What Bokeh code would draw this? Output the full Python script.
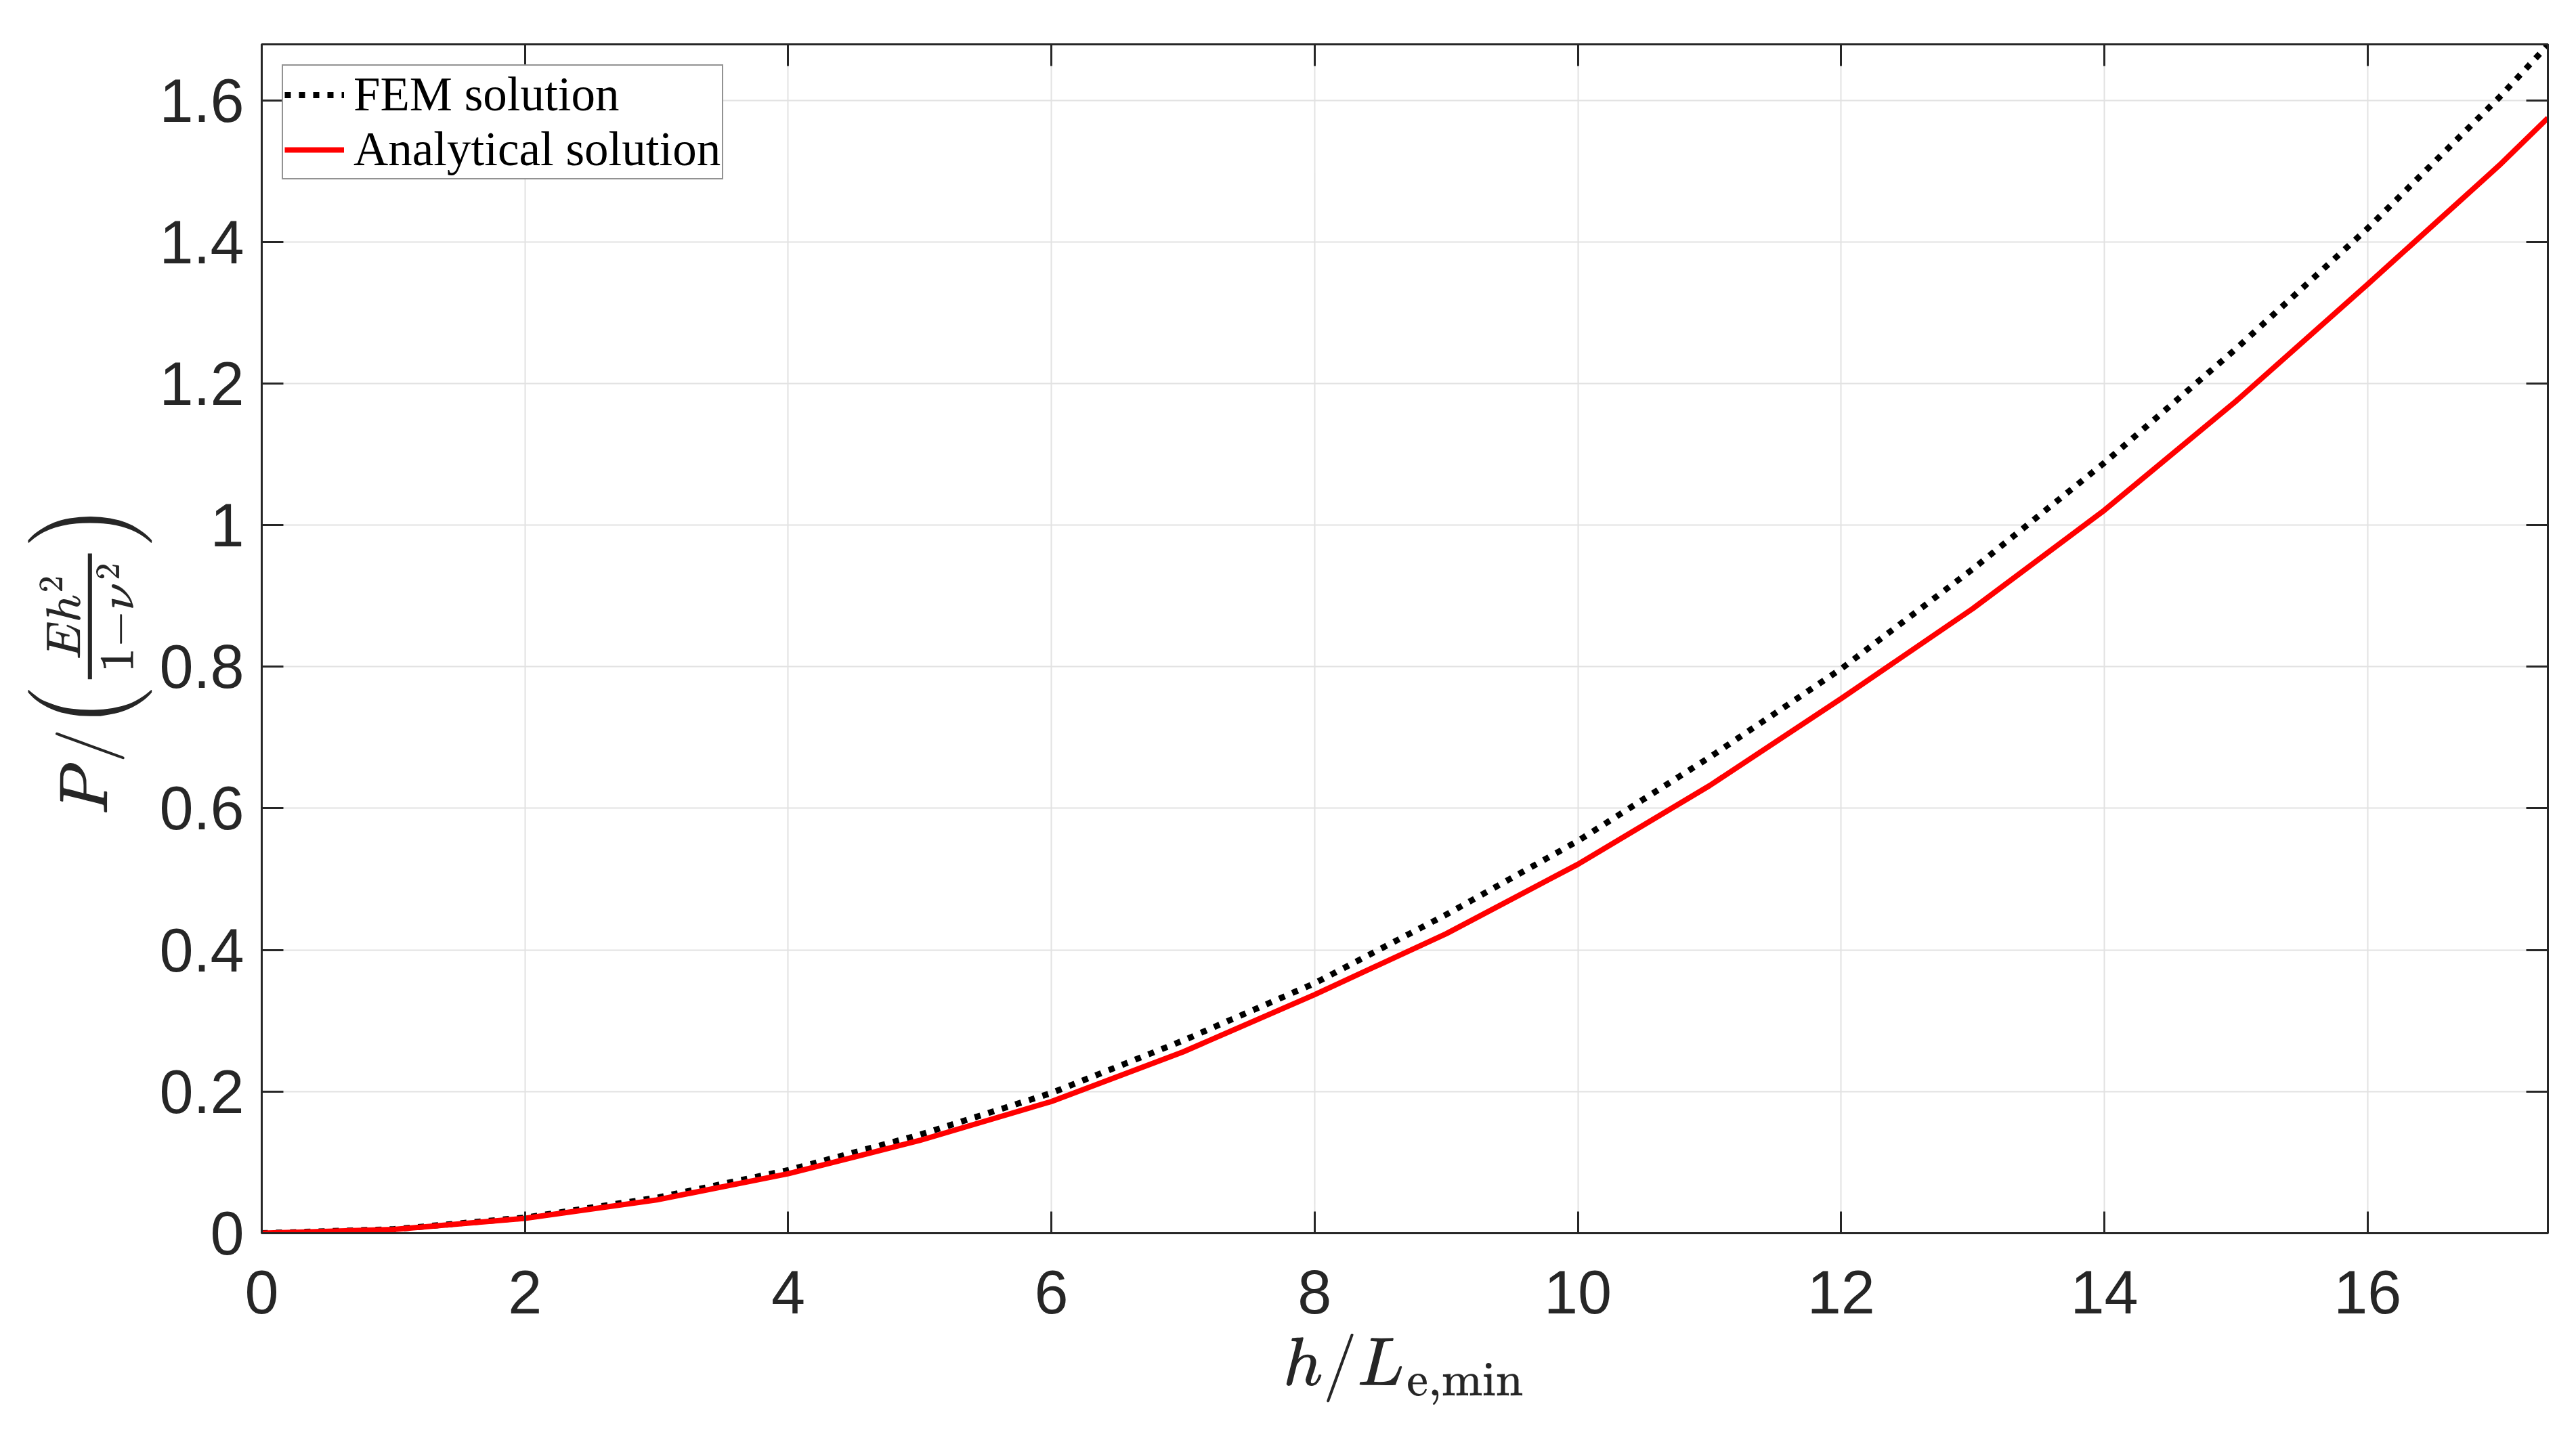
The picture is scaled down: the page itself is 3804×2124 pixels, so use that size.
import numpy as np
from bokeh.plotting import figure
from bokeh.models import Range1d, LinearAxis, FixedTicker, CustomJSTickFormatter, TeX
from bokeh.embed import file_html
from bokeh.resources import INLINE

# ---- data ----
x_vals = [0, 1, 2, 3, 4, 5, 6, 7, 8, 9, 10, 11, 12, 13, 14, 15, 16, 17, 17.37]
fem_vals = [0, 0.0056, 0.022, 0.050, 0.089, 0.139, 0.198, 0.272, 0.353, 0.450,
            0.554, 0.672, 0.797, 0.938, 1.088, 1.249, 1.419, 1.604, 1.678]
ana_vals = [0, 0.0052, 0.021, 0.047, 0.084, 0.131, 0.186, 0.256, 0.337, 0.423,
            0.521, 0.632, 0.755, 0.882, 1.021, 1.175, 1.340, 1.508, 1.575]
x_ticks = [0, 2, 4, 6, 8, 10, 12, 14, 16]
y_ticks = [0, 0.2, 0.4, 0.6, 0.8, 1.0, 1.2, 1.4, 1.6]
series_names = ["FEM solution", "Analytical solution"]
x_label = r"h/L_{\mathrm{e,min}}"
y_label = r"P/\Big(\frac{Eh^2}{1-\nu^2}\Big)\hspace{0.6em}"
x_max = 17.37
y_max = 1.679

AX = "#262626"

p = figure(width=3795, height=2115, output_backend="svg", toolbar_location=None,
           x_range=Range1d(0, x_max), y_range=Range1d(0, y_max),
           min_border_left=386, min_border_right=33, min_border_top=65,
           min_border_bottom=294, background_fill_color="white",
           border_fill_color="white")

p.line(x_vals, fem_vals, line_color="black", line_width=9, line_dash="9 12",
       legend_label=series_names[0])
p.line(x_vals, ana_vals, line_color="#ff0000", line_width=8,
       legend_label=series_names[1])

xt = FixedTicker(ticks=x_ticks)
yt = FixedTicker(ticks=y_ticks)
fmt = CustomJSTickFormatter(code="return String(Math.round(tick*10)/10);")
blank = CustomJSTickFormatter(code="return '';")

bx = p.xaxis[0]
ly = p.yaxis[0]
bx.ticker = xt
ly.ticker = yt
bx.formatter = fmt
ly.formatter = fmt
p.xgrid[0].ticker = xt
p.ygrid[0].ticker = yt
p.grid.grid_line_color = "#e2e2e2"
p.grid.grid_line_width = 2

top_ax = LinearAxis(ticker=xt, formatter=blank)
right_ax = LinearAxis(ticker=yt, formatter=blank)
p.add_layout(top_ax, "above")
p.add_layout(right_ax, "right")

for ax in [bx, ly, top_ax, right_ax]:
    ax.axis_line_color = AX
    ax.axis_line_width = 3
    ax.major_tick_in = 32
    ax.major_tick_out = 0
    ax.major_tick_line_color = AX
    ax.major_tick_line_width = 3
    ax.minor_tick_line_color = None
    ax.major_label_text_font = "Liberation Sans"
    ax.major_label_text_font_size = "90px"
    ax.major_label_text_color = AX

for ax in [top_ax, right_ax]:
    ax.major_label_standoff = 0

bx.major_label_standoff = 55
ly.major_label_standoff = 26

bx.axis_label = TeX(text=x_label, inline=True)
ly.axis_label = TeX(text=y_label, inline=True)
for ax in [bx, ly]:
    ax.axis_label_text_font_size = "84px"
    ax.axis_label_text_color = AX
bx.axis_label_standoff = 27
ly.axis_label_standoff = 8

p.outline_line_color = AX
p.outline_line_width = 3

lg = p.legend[0]
lg.location = "top_left"
lg.margin = 30
lg.border_line_color = AX
lg.border_line_width = 2
lg.background_fill_color = "white"
lg.background_fill_alpha = 1
lg.label_text_font = "Liberation Serif"
lg.label_text_font_size = "71px"
lg.label_text_color = "black"
lg.glyph_width = 88
lg.glyph_height = 60
lg.label_height = 60
lg.spacing = 0
lg.padding = 2
lg.label_standoff = 14

open("out.html", "w").write(file_html(p, INLINE))
